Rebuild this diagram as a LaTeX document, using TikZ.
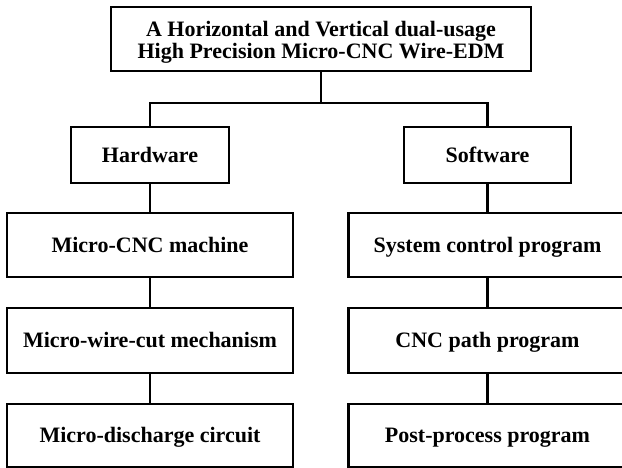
\documentclass[tikz,border=0pt]{standalone}
\usepackage{fontspec}
\setmainfont{Liberation Serif}
\usetikzlibrary{positioning,calc}
\begin{document}
\begin{tikzpicture}[x=1pt,y=-1pt,
  box/.style={draw=black, line width=2.6pt, rectangle, inner sep=0pt, align=center,
    font=\fontsize{22}{22}\selectfont\bfseries, text height=16pt, text depth=1.6pt},
  conn/.style={draw=black, line width=2.6pt}]
\useasboundingbox (0,0) rectangle (622,468);
\node[box, minimum width=420pt, minimum height=64pt, text height=40pt, text depth=0pt] (top) at (321,39) {A Horizontal and Vertical dual-usage\\High Precision Micro-CNC Wire-EDM};
\node[box, minimum width=158pt, minimum height=56pt] (hw) at (150,155) {Hardware};
\node[box, minimum width=167pt, minimum height=56pt] (sw) at (487.5,155) {Software};
\node[box, minimum width=286pt, minimum height=64pt] (l1) at (150,245) {Micro-CNC machine};
\node[box, minimum width=286pt, minimum height=65pt] (l2) at (150,340.5) {Micro-wire-cut mechanism};
\node[box, minimum width=286pt, minimum height=63pt] (l3) at (150,435.5) {Micro-discharge circuit};
\node[box, minimum width=278pt, minimum height=64pt] (r1) at (487.5,245) {System control program};
\node[box, minimum width=278pt, minimum height=65pt] (r2) at (487.5,340.5) {CNC path program};
\node[box, minimum width=278pt, minimum height=63pt] (r3) at (487.5,435.5) {Post-process program};
\coordinate (j) at (321,103);
\draw[conn] (top.south) -- (j);
\draw[conn] (hw.north) |- (j) -| (sw.north);
\draw[conn] (hw.south) -- (l1.north);
\draw[conn] (l1.south) -- (l2.north);
\draw[conn] (l2.south) -- (l3.north);
\draw[conn] (sw.south) -- (r1.north);
\draw[conn] (r1.south) -- (r2.north);
\draw[conn] (r2.south) -- (r3.north);
\end{tikzpicture}
\end{document}
